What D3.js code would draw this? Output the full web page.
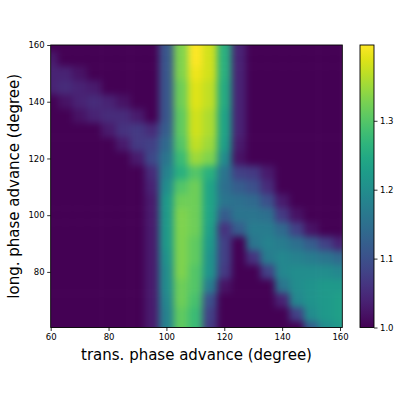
<!DOCTYPE html>
<html>
<head>
<meta charset="utf-8">
<script src="https://cdn.jsdelivr.net/npm/d3@7"></script>
<style>
body { margin: 0; background: #fff; }
text { font-family: "DejaVu Sans", sans-serif; fill: #000; }
</style>
</head>
<body>
<div id="chart"></div>
<script>
// grid of the scan (degrees), value = growth factor
const xGrid = [60, 65, 70, 75, 80, 85, 90, 95, 100, 105, 110, 115, 120, 125, 130, 135, 140, 145, 150, 155, 160];
const yGrid = [160, 155, 150, 145, 140, 135, 130, 125, 120, 115, 110, 105, 100, 95, 90, 85, 80, 75, 70, 65, 60];
const zRows = [
  [1.00,1.00,1.00,1.00,1.00,1.00,1.00,1.00,1.11,1.33,1.41,1.38,1.26,1.04,1.00,1.00,1.00,1.00,1.00,1.00,1.00],
  [1.03,1.00,1.00,1.00,1.00,1.00,1.00,1.00,1.11,1.33,1.41,1.38,1.26,1.04,1.00,1.00,1.00,1.00,1.00,1.00,1.00],
  [1.04,1.04,1.02,1.00,1.00,1.00,1.00,1.00,1.11,1.33,1.40,1.38,1.26,1.04,1.00,1.00,1.00,1.00,1.00,1.00,1.00],
  [1.04,1.05,1.04,1.03,1.00,1.00,1.00,1.00,1.11,1.32,1.39,1.37,1.25,1.04,1.00,1.00,1.00,1.00,1.00,1.00,1.00],
  [1.00,1.02,1.04,1.05,1.04,1.02,1.00,1.00,1.11,1.32,1.39,1.37,1.25,1.04,1.00,1.00,1.00,1.00,1.00,1.00,1.00],
  [1.00,1.00,1.02,1.04,1.05,1.05,1.03,1.00,1.11,1.31,1.38,1.36,1.24,1.04,1.00,1.00,1.00,1.00,1.00,1.00,1.00],
  [1.00,1.00,1.00,1.00,1.03,1.06,1.07,1.05,1.12,1.31,1.38,1.36,1.24,1.04,1.00,1.00,1.00,1.00,1.00,1.00,1.00],
  [1.00,1.00,1.00,1.00,1.00,1.03,1.07,1.08,1.14,1.30,1.37,1.35,1.23,1.03,1.00,1.00,1.00,1.00,1.00,1.00,1.00],
  [1.00,1.00,1.00,1.00,1.00,1.00,1.03,1.09,1.16,1.28,1.35,1.33,1.20,1.02,1.00,1.00,1.00,1.00,1.00,1.00,1.00],
  [1.00,1.00,1.00,1.00,1.00,1.00,1.00,1.05,1.18,1.26,1.30,1.26,1.16,1.08,1.07,1.03,1.00,1.00,1.00,1.00,1.00],
  [1.00,1.00,1.00,1.00,1.00,1.00,1.00,1.04,1.20,1.30,1.32,1.24,1.15,1.12,1.10,1.05,1.00,1.00,1.00,1.00,1.00],
  [1.00,1.00,1.00,1.00,1.00,1.00,1.00,1.03,1.22,1.32,1.32,1.24,1.16,1.15,1.14,1.10,1.03,1.00,1.00,1.00,1.00],
  [1.00,1.00,1.00,1.00,1.00,1.00,1.00,1.03,1.22,1.33,1.32,1.24,1.12,1.16,1.16,1.15,1.07,1.02,1.00,1.00,1.00],
  [1.00,1.00,1.00,1.00,1.00,1.00,1.00,1.03,1.22,1.33,1.32,1.23,1.06,1.12,1.17,1.17,1.14,1.08,1.02,1.00,1.00],
  [1.00,1.00,1.00,1.00,1.00,1.00,1.00,1.03,1.22,1.33,1.31,1.22,1.08,1.00,1.16,1.18,1.17,1.15,1.12,1.08,1.04],
  [1.00,1.00,1.00,1.00,1.00,1.00,1.00,1.03,1.21,1.33,1.31,1.21,1.08,1.00,1.06,1.17,1.19,1.18,1.17,1.16,1.14],
  [1.00,1.00,1.00,1.00,1.00,1.00,1.00,1.03,1.20,1.33,1.30,1.21,1.07,1.00,1.00,1.08,1.19,1.20,1.20,1.20,1.19],
  [1.00,1.00,1.00,1.00,1.00,1.00,1.00,1.03,1.20,1.32,1.30,1.17,1.02,1.00,1.00,1.00,1.16,1.20,1.21,1.22,1.22],
  [1.00,1.00,1.00,1.00,1.00,1.00,1.00,1.03,1.19,1.32,1.29,1.10,1.00,1.00,1.00,1.00,1.04,1.19,1.21,1.22,1.23],
  [1.00,1.00,1.00,1.00,1.00,1.00,1.00,1.03,1.18,1.31,1.28,1.08,1.00,1.00,1.00,1.00,1.00,1.08,1.20,1.22,1.23],
  [1.00,1.00,1.00,1.00,1.00,1.00,1.00,1.03,1.18,1.31,1.28,1.07,1.00,1.00,1.00,1.00,1.00,1.00,1.12,1.20,1.22]
];
const xTicks = [60, 80, 100, 120, 140, 160];
const yTicks = [80, 100, 120, 140, 160];
const cTicks = [1.0, 1.1, 1.2, 1.3];
const xLabel = "trans. phase advance (degree)";
const yLabel = "long. phase advance (degree)";

const width = 400, height = 400;
const plot = { left: 50.7, right: 342.3, top: 45, bottom: 327.5 };
const bar = { left: 360, right: 374 };

const svg = d3.select("#chart").append("svg")
  .attr("width", width)
  .attr("height", height);

const x = d3.scaleLinear().domain([60, 160.8]).range([plot.left, plot.right]);
const y = d3.scaleLinear().domain([60.4, 160]).range([plot.bottom, plot.top]);
const color = d3.scaleSequential(d3.interpolateViridis).domain([1.0, 1.41]);

const defs = svg.append("defs");
defs.append("clipPath").attr("id", "clip")
  .append("rect")
  .attr("x", plot.left).attr("y", plot.top)
  .attr("width", plot.right - plot.left).attr("height", plot.bottom - plot.top);

const blur = defs.append("filter").attr("id", "smooth")
  .attr("filterUnits", "userSpaceOnUse")
  .attr("x", plot.left - 20).attr("y", plot.top - 20)
  .attr("width", plot.right - plot.left + 40).attr("height", plot.bottom - plot.top + 40)
  .attr("color-interpolation-filters", "sRGB");
blur.append("feGaussianBlur").attr("stdDeviation", 3.6).attr("edgeMode", "duplicate");

// flatten rows into cells
const dx = xGrid[1] - xGrid[0], dy = yGrid[0] - yGrid[1];
const cells = [];
zRows.forEach((row, i) => row.forEach((v, j) => cells.push({ gx: xGrid[j], gy: yGrid[i], v: v })));

svg.append("g").attr("clip-path", "url(#clip)")
  .append("g").attr("filter", "url(#smooth)")
  .selectAll("rect")
  .data(cells)
  .enter().append("rect")
  .attr("x", d => x(d.gx - dx / 2))
  .attr("y", d => y(d.gy + dy / 2))
  .attr("width", x(dx) - x(0) + 0.6)
  .attr("height", y(0) - y(dy) + 0.6)
  .attr("fill", d => color(d.v));

// axes
const xAxis = svg.append("g")
  .attr("transform", "translate(0," + plot.bottom + ")")
  .call(d3.axisBottom(x).tickValues(xTicks).tickSize(3.5).tickPadding(2.5).tickFormat(d3.format("d")));
const yAxis = svg.append("g")
  .attr("transform", "translate(" + plot.left + ",0)")
  .call(d3.axisLeft(y).tickValues(yTicks).tickSize(3.5).tickPadding(2.5).tickFormat(d3.format("d")));
[xAxis, yAxis].forEach(g => {
  g.select(".domain").remove();
  g.selectAll("text").attr("font-size", 8.5).attr("font-family", "DejaVu Sans");
  g.selectAll("line").attr("stroke", "#000").attr("stroke-width", 0.8);
});

svg.append("rect")
  .attr("x", plot.left).attr("y", plot.top)
  .attr("width", plot.right - plot.left).attr("height", plot.bottom - plot.top)
  .attr("fill", "none").attr("stroke", "#000").attr("stroke-width", 0.9);

svg.append("text")
  .attr("x", (plot.left + plot.right) / 2).attr("y", 360)
  .attr("text-anchor", "middle").attr("font-size", 15)
  .text(xLabel);
svg.append("text")
  .attr("transform", "translate(18.5," + (plot.top + plot.bottom) / 2 + ") rotate(-90)")
  .attr("text-anchor", "middle").attr("font-size", 15)
  .text(yLabel);

// colorbar
const cy = d3.scaleLinear().domain(color.domain()).range([plot.bottom, plot.top]);
const grad = defs.append("linearGradient").attr("id", "cbar")
  .attr("x1", 0).attr("y1", 1).attr("x2", 0).attr("y2", 0);
grad.selectAll("stop")
  .data(d3.range(0, 1.0001, 0.05))
  .enter().append("stop")
  .attr("offset", d => d)
  .attr("stop-color", d => d3.interpolateViridis(d));

svg.append("rect")
  .attr("x", bar.left).attr("y", plot.top)
  .attr("width", bar.right - bar.left).attr("height", plot.bottom - plot.top)
  .attr("fill", "url(#cbar)").attr("stroke", "#000").attr("stroke-width", 0.9);

const cAxis = svg.append("g")
  .attr("transform", "translate(" + bar.right + ",0)")
  .call(d3.axisRight(cy).tickValues(cTicks).tickSize(3.5).tickPadding(2.5).tickFormat(d3.format(".1f")));
cAxis.select(".domain").remove();
cAxis.selectAll("text").attr("font-size", 8.5).attr("font-family", "DejaVu Sans");
cAxis.selectAll("line").attr("stroke", "#000").attr("stroke-width", 0.8);
</script>
</body>
</html>
